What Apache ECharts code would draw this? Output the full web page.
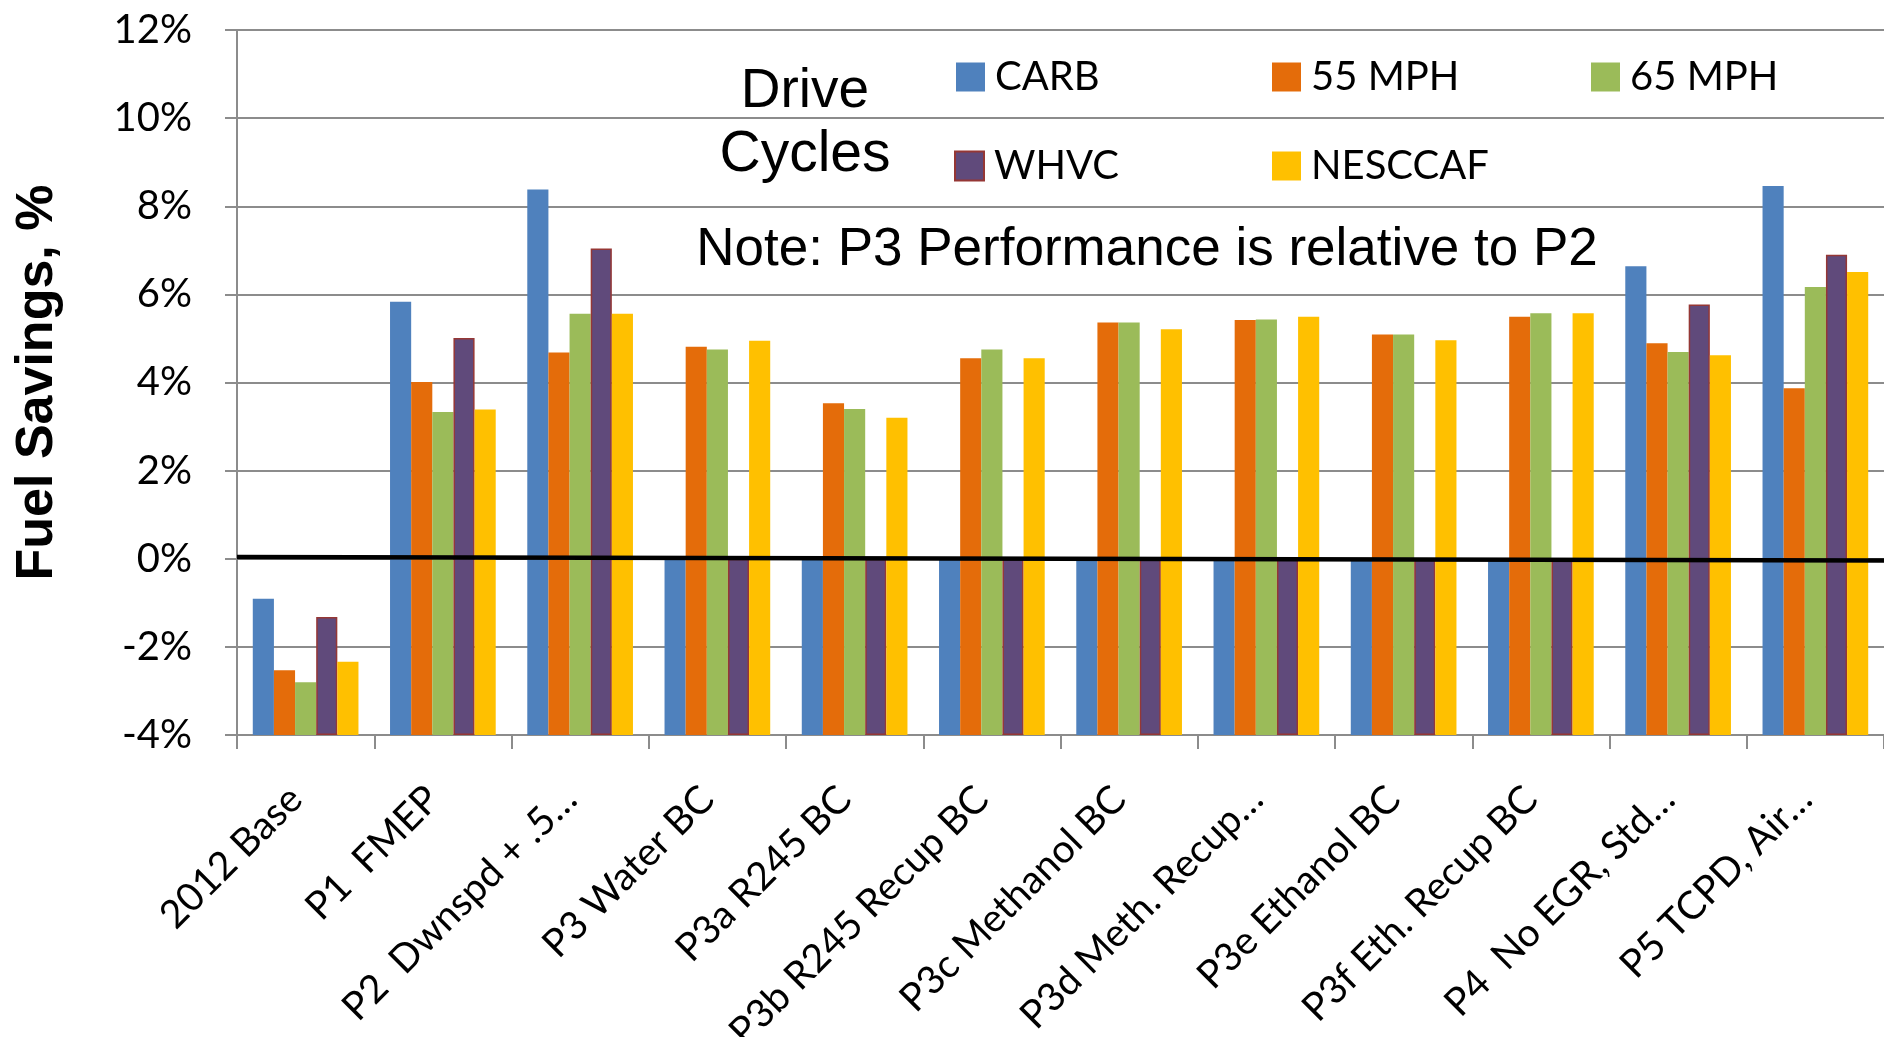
<!DOCTYPE html>
<html>
<head>
<meta charset="utf-8">
<script src="https://cdn.jsdelivr.net/npm/echarts@6/dist/echarts.min.js"></script>
<style>
html, body { margin: 0; padding: 0; background: #ffffff; }
#chart { width: 1884px; height: 1037px; }
</style>
</head>
<body>
<div id="chart"></div>
<script>
// Engine package steps (fuel savings per drive cycle, %)
const categories = [
  '2012 Base', 'P1  FMEP', 'P2  Dwnspd + .5…', 'P3 Water BC', 'P3a R245 BC',
  'P3b R245 Recup BC', 'P3c Methanol BC', 'P3d Meth. Recup…', 'P3e Ethanol BC',
  'P3f Eth. Recup BC', 'P4  No EGR, Std…', 'P5 TCPD, Air…'
];
const seriesNames = ['CARB', '55 MPH', '65 MPH', 'WHVC', 'NESCCAF'];
const carb    = [-0.91, 5.83, 8.38, 0, 0, 0, 0, 0, 0, 0, 6.64, 8.46];
const mph55   = [-2.53, 4.01, 4.68, 4.81, 3.53, 4.55, 5.36, 5.42, 5.09, 5.49, 4.89, 3.87];
const mph65   = [-2.80, 3.33, 5.56, 4.75, 3.40, 4.75, 5.36, 5.43, 5.09, 5.57, 4.69, 6.17];
const whvc    = [-1.32, 5.01, 7.04, 0, 0, 0, 0, 0, 0, 0, 5.77, 6.90];
const nesccaf = [-2.34, 3.39, 5.56, 4.95, 3.20, 4.55, 5.21, 5.49, 4.96, 5.57, 4.62, 6.51];

// Value axis ticks (%)
const yMin = -4;
const yMax = 12;
const yStep = 2;

// Reference line drawn across the plot at 0 %
const zeroLine = [[0, 0.04], [1, -0.04]];

// Bars grow from the bottom of the value axis (-4 %), so values are
// measured from yMin and the tick labels add it back.
const fromBase = arr => arr.map(v => v - yMin);

const colors = ['#4F81BD', '#E46C0A', '#9BBB59', '#604A7B', '#FFC000'];
const values = [carb, mph55, mph65, whvc, nesccaf];

const calibriLike = 'Lato, "Noto Sans", sans-serif';
const arialLike = '"Liberation Sans", Arial, sans-serif';

const barSeries = seriesNames.map((name, i) => ({
  name: name,
  type: 'bar',
  xAxisIndex: 0,
  yAxisIndex: 0,
  data: fromBase(values[i]),
  barGap: '0%',
  barCategoryGap: '23%',
  itemStyle: name === 'WHVC'
    ? { color: colors[i], borderColor: '#953735', borderWidth: 1.5 }
    : { color: colors[i] },
  emphasis: { disabled: true }
}));

const legendSlots = [
  { left: 956, top: 57 },
  { left: 1272, top: 57 },
  { left: 1591, top: 57 },
  { left: 954, top: 146 },
  { left: 1272, top: 146 }
];

const legends = seriesNames.map((name, i) => ({
  data: [name],
  left: legendSlots[i].left,
  top: legendSlots[i].top,
  padding: 0,
  itemWidth: 29,
  itemHeight: 29,
  icon: 'rect',
  selectedMode: false,
  textStyle: {
    fontFamily: calibriLike,
    fontSize: 40,
    color: '#000',
    padding: [0, 0, 0, 5]
  }
}));

const chart = echarts.init(document.getElementById('chart'), null, { renderer: 'canvas' });

chart.setOption({
  animation: false,
  backgroundColor: '#ffffff',
  grid: {
    left: 237, right: 0, top: 30, bottom: 302,
    containLabel: false,
    outerBoundsMode: 'none'
  },
  legend: legends,
  graphic: [
    {
      type: 'text', silent: true,
      style: { text: 'Drive', x: 805, y: 92, align: 'center', verticalAlign: 'middle',
               font: '55px ' + arialLike, fill: '#000' }
    },
    {
      type: 'text', silent: true,
      style: { text: 'Cycles', x: 805, y: 155, align: 'center', verticalAlign: 'middle',
               font: '57px ' + arialLike, fill: '#000' }
    },
    {
      type: 'text', silent: true,
      style: { text: 'Note: P3 Performance is relative to P2', x: 1147, y: 250,
               align: 'center', verticalAlign: 'middle',
               font: '53px ' + arialLike, fill: '#000' }
    }
  ],
  xAxis: [
    {
      type: 'category',
      data: categories,
      boundaryGap: true,
      axisLine: { show: true, lineStyle: { color: '#8C8C8C', width: 2 } },
      axisTick: { show: true, length: 14, lineStyle: { color: '#8C8C8C', width: 2 } },
      axisLabel: {
        interval: 0,
        rotate: 45,
        margin: 48,
        padding: [0, 14, 0, 0],
        fontFamily: calibriLike,
        fontSize: 39,
        color: '#000'
      },
      splitLine: { show: false }
    },
    {
      type: 'value',
      min: 0,
      max: 1,
      show: false
    }
  ],
  yAxis: {
    type: 'value',
    min: 0,
    max: yMax - yMin,
    interval: yStep,
    name: 'Fuel Savings, %',
    nameLocation: 'middle',
    nameGap: 173,
    nameTextStyle: { fontFamily: arialLike, fontWeight: 'bold', fontSize: 52, color: '#000' },
    axisLine: { show: true, lineStyle: { color: '#8C8C8C', width: 2 } },
    axisTick: { show: true, length: 12, lineStyle: { color: '#8C8C8C', width: 2 } },
    axisLabel: {
      margin: 45,
      fontFamily: calibriLike,
      fontSize: 40,
      color: '#000',
      formatter: v => (v + yMin) + '%'
    },
    splitLine: { show: true, lineStyle: { color: '#8C8C8C', width: 2 } }
  },
  series: barSeries.concat([{
    name: 'zero',
    type: 'line',
    xAxisIndex: 1,
    yAxisIndex: 0,
    data: zeroLine.map(p => [p[0], p[1] - yMin]),
    showSymbol: false,
    silent: true,
    z: 10,
    lineStyle: { color: '#000000', width: 4.5 }
  }])
});
</script>
</body>
</html>
